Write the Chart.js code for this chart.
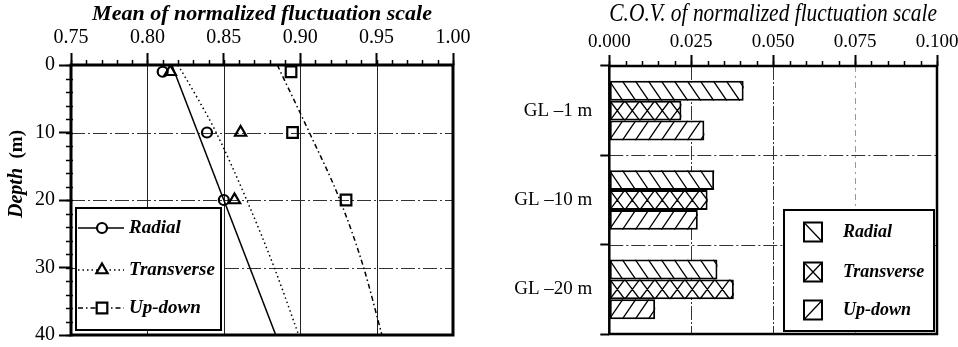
<!DOCTYPE html>
<html>
<head>
<meta charset="utf-8">
<script src="https://cdn.jsdelivr.net/npm/chart.js@4/dist/chart.umd.min.js"></script>
<style>
  html, body { margin: 0; padding: 0; background: #fff; overflow: hidden; width: 958px; height: 347px; }
  #wrapL { position: absolute; left: 0; top: 0; width: 480px; height: 360px; }
  #wrapR { position: absolute; left: 480px; top: 0; width: 500px; height: 360px; }
</style>
</head>
<body>
<div id="wrapL"><canvas id="meanChart" width="480" height="360"></canvas></div>
<div id="wrapR"><canvas id="covChart" width="500" height="360"></canvas></div>
<script>
// ---- Mean of normalized fluctuation scale vs depth ----
const meanTicks = [0.75, 0.80, 0.85, 0.90, 0.95, 1.00];
const depthTicks = [0, 10, 20, 30, 40];
const sampleDepths = [1, 10, 20];
const radialMean = [0.810, 0.839, 0.850];
const transverseMean = [0.815, 0.861, 0.857];
const updownMean = [0.894, 0.895, 0.930];
// fitted trends (depth in m, mean value)
const radialFitDepths = [0, 40];
const radialFit = [0.816, 0.884];
const transverseFitDepths = [0, 5, 10, 20, 30, 40];
const transverseFit = [0.820, 0.833, 0.845, 0.865, 0.883, 0.899];
const updownFitDepths = [0, 10, 20, 30, 40];
const updownFit = [0.885, 0.906, 0.926, 0.9415, 0.9535];

// ---- C.O.V. of normalized fluctuation scale per level ----
const levels = ['GL \u20131 m', 'GL \u201310 m', 'GL \u201320 m'];
const covTicks = [0, 0.025, 0.05, 0.075, 0.1];
const covRadial = [0.041, 0.032, 0.033];
const covTransverse = [0.022, 0.030, 0.038];
const covUpdown = [0.029, 0.027, 0.014];

const seriesNames = ['Radial', 'Transverse', 'Up-down'];

const SERIF = "'Liberation Serif', 'Times New Roman', serif";
Chart.defaults.font.family = SERIF;
Chart.defaults.color = '#000';

const toPoints = (xs, ys) => ys.map((d, i) => ({ x: xs[i], y: d }));

function drawMarker(ctx, style, r, x, y) {
  ctx.beginPath();
  if (style === 'circle') {
    ctx.arc(x, y, r, 0, Math.PI * 2);
  } else if (style === 'triangle') {
    ctx.moveTo(x, y - r);
    ctx.lineTo(x + r * 0.866, y + r * 0.5);
    ctx.lineTo(x - r * 0.866, y + r * 0.5);
    ctx.closePath();
  } else {
    const s = r * Math.SQRT1_2;
    ctx.rect(x - s, y - s, 2 * s, 2 * s);
  }
  ctx.fill();
  ctx.stroke();
}

function drawHatch(ctx, kind, l, t, r, b) {
  const h = b - t;
  const step = kind === 'cross' ? 15 : 13;
  const dx = kind === 'cross' ? 15 : h * 0.68;
  ctx.beginPath();
  for (let x0 = l - dx - step; x0 < r + step; x0 += step) {
    if (kind === 'back' || kind === 'cross') { ctx.moveTo(x0, t); ctx.lineTo(x0 + dx, b); }
    if (kind === 'fwd' || kind === 'cross') { ctx.moveTo(x0 + dx, t); ctx.lineTo(x0, b); }
  }
  ctx.stroke();
}

// Grid lines, hatching, minor ticks, frame and in-plot legends
const paperPlugin = {
  id: 'paper',
  beforeDatasetsDraw(chart, args, o) {
    const { ctx, chartArea: a, scales } = chart;
    ctx.save();
    ctx.beginPath();
    ctx.rect(a.left, a.top, a.right - a.left, a.bottom - a.top);
    ctx.clip();
    (o.gridX || []).forEach(g => {
      const px = Math.round(scales.x.getPixelForValue(g.value)) + 0.5;
      ctx.beginPath();
      ctx.setLineDash(g.dash || []);
      ctx.strokeStyle = g.color;
      ctx.lineWidth = g.width || 1;
      ctx.moveTo(px, a.top);
      ctx.lineTo(px, a.bottom);
      ctx.stroke();
    });
    (o.gridY || []).forEach(g => {
      const ys = scales.y;
      let py = g.between != null
        ? (ys.getPixelForValue(g.between) + ys.getPixelForValue(g.between + 1)) / 2
        : ys.getPixelForValue(g.value);
      py = Math.round(py) + 0.5;
      ctx.beginPath();
      ctx.setLineDash(g.dash || []);
      ctx.strokeStyle = g.color;
      ctx.lineWidth = g.width || 1;
      ctx.moveTo(a.left, py);
      ctx.lineTo(a.right, py);
      ctx.stroke();
    });
    ctx.restore();
  },
  afterDatasetsDraw(chart, args, o) {
    const { ctx } = chart;
    chart.data.datasets.forEach((ds, di) => {
      if (!ds.hatch) return;
      chart.getDatasetMeta(di).data.forEach(bar => {
        const p = bar.getProps(['x', 'y', 'base', 'height'], true);
        const l = Math.min(p.x, p.base), r = Math.max(p.x, p.base);
        const t = p.y - p.height / 2, b = p.y + p.height / 2;
        ctx.save();
        ctx.beginPath();
        ctx.rect(l, t, r - l, b - t);
        ctx.clip();
        ctx.strokeStyle = '#000';
        ctx.lineWidth = 1.3;
        drawHatch(ctx, ds.hatch, l, t, r, b);
        ctx.restore();
      });
    });
  },
  afterDraw(chart, args, o) {
    const { ctx, chartArea: a, scales } = chart;
    ctx.save();
    ctx.strokeStyle = '#000';
    ctx.fillStyle = '#000';
    ctx.setLineDash([]);

    // minor ticks
    if (o.minorX) {
      const xs = scales.x;
      ctx.lineWidth = 1.5;
      ctx.beginPath();
      for (let k = 0; ; k++) {
        const v = xs.min + k * o.minorX;
        if (v > xs.max + 1e-9) break;
        const px = Math.round(xs.getPixelForValue(v)) + 0.5;
        ctx.moveTo(px, a.top);
        ctx.lineTo(px, a.top - o.minorLen);
      }
      ctx.stroke();
    }
    if (o.minorY) {
      const ys = scales.y;
      ctx.lineWidth = 1.5;
      ctx.beginPath();
      for (let k = 0; ; k++) {
        const v = ys.min + k * o.minorY;
        if (v > ys.max + 1e-9) break;
        const py = Math.round(ys.getPixelForValue(v)) + 0.5;
        ctx.moveTo(a.left - o.minorLen, py);
        ctx.lineTo(a.left + 2, py);
      }
      ctx.stroke();
    }

    // line / marker legend
    if (o.lineLegend) {
      const L = o.lineLegend;
      ctx.fillStyle = '#fff';
      ctx.fillRect(L.x, L.y, L.w, L.h);
      ctx.lineWidth = 2;
      ctx.strokeRect(L.x, L.y, L.w, L.h);
      const markers = chart.data.datasets.filter(d => !d.showLine);
      markers.forEach((m, i) => {
        const line = chart.data.datasets.find(d => d.showLine && d.label === m.label);
        const cy = L.rowY[i];
        ctx.beginPath();
        ctx.setLineDash(line.borderDash || []);
        ctx.lineWidth = line.borderWidth;
        ctx.strokeStyle = '#000';
        ctx.moveTo(L.lineX0, cy);
        ctx.lineTo(L.lineX1, cy);
        ctx.stroke();
        ctx.setLineDash([]);
        ctx.fillStyle = '#fff';
        ctx.lineWidth = m.pointBorderWidth;
        drawMarker(ctx, m.pointStyle, m.pointRadius, L.markX, cy);
        ctx.fillStyle = '#000';
        ctx.font = L.font;
        ctx.textAlign = 'left';
        ctx.textBaseline = 'middle';
        ctx.fillText(m.label, L.textX, cy);
      });
    }

    // hatch legend
    if (o.barLegend) {
      const L = o.barLegend;
      ctx.fillStyle = '#fff';
      ctx.fillRect(L.x, L.y, L.w, L.h);
      ctx.lineWidth = 2;
      ctx.strokeStyle = '#000';
      ctx.strokeRect(L.x, L.y, L.w, L.h);
      chart.data.datasets.forEach((ds, i) => {
        const cy = L.rowY[i];
        const st = cy - L.swH / 2;
        ctx.fillStyle = '#fff';
        ctx.fillRect(L.swX, st, L.swW, L.swH);
        ctx.lineWidth = 2;
        ctx.strokeRect(L.swX, st, L.swW, L.swH);
        ctx.lineWidth = 1.3;
        ctx.beginPath();
        if (ds.hatch === 'back' || ds.hatch === 'cross') { ctx.moveTo(L.swX, st); ctx.lineTo(L.swX + L.swW, st + L.swH); }
        if (ds.hatch === 'fwd' || ds.hatch === 'cross') { ctx.moveTo(L.swX + L.swW, st); ctx.lineTo(L.swX, st + L.swH); }
        ctx.stroke();
        ctx.fillStyle = '#000';
        ctx.font = L.font;
        ctx.textAlign = 'left';
        ctx.textBaseline = 'middle';
        ctx.fillText(ds.label, L.textX, cy);
      });
    }

    // rotated y-axis title with mixed styles
    if (o.yTitle) {
      const T = o.yTitle;
      ctx.translate(T.x, T.y);
      ctx.rotate(-Math.PI / 2);
      ctx.textBaseline = 'middle';
      ctx.textAlign = 'left';
      let total = 0;
      const widths = T.parts.map(p => { ctx.font = p.font; const w = ctx.measureText(p.text).width; total += w; return w; });
      let cx = -total / 2;
      T.parts.forEach((p, i) => {
        ctx.font = p.font;
        ctx.fillStyle = '#000';
        ctx.fillText(p.text, cx, 0);
        cx += widths[i];
      });
      ctx.setTransform(1, 0, 0, 1, 0, 0);
    }

    // plot frame
    ctx.lineWidth = o.frameWidth;
    ctx.strokeStyle = '#000';
    ctx.strokeRect(a.left, a.top, a.right - a.left, a.bottom - a.top);
    ctx.restore();
  }
};

// ---------- left panel ----------
new Chart(document.getElementById('meanChart'), {
  type: 'scatter',
  plugins: [paperPlugin],
  data: {
    datasets: [
      { label: seriesNames[0], data: toPoints(radialFit, radialFitDepths), showLine: true,
        borderColor: '#000', borderWidth: 1.5, pointRadius: 0, borderDash: [] },
      { label: seriesNames[1], data: toPoints(transverseFit, transverseFitDepths), showLine: true,
        borderColor: '#000', borderWidth: 1.5, pointRadius: 0, borderDash: [1.5, 3], cubicInterpolationMode: 'monotone' },
      { label: seriesNames[2], data: toPoints(updownFit, updownFitDepths), showLine: true,
        borderColor: '#000', borderWidth: 1.5, pointRadius: 0, borderDash: [5, 3, 1.5, 3], cubicInterpolationMode: 'monotone' },
      { label: seriesNames[0], data: toPoints(radialMean, sampleDepths), showLine: false,
        pointStyle: 'circle', pointRadius: 5, pointBorderWidth: 2.2, pointBorderColor: '#000', pointBackgroundColor: 'rgba(255,255,255,0)' },
      { label: seriesNames[1], data: toPoints(transverseMean, sampleDepths), showLine: false,
        pointStyle: 'triangle', pointRadius: 6.5, pointBorderWidth: 2.2, pointBorderColor: '#000', pointBackgroundColor: 'rgba(255,255,255,0)' },
      { label: seriesNames[2], data: toPoints(updownMean, sampleDepths), showLine: false,
        pointStyle: 'rect', pointRadius: 7.5, pointBorderWidth: 2.2, pointBorderColor: '#000', pointBackgroundColor: 'rgba(255,255,255,0)' }
    ]
  },
  options: {
    responsive: false,
    animation: false,
    layout: { padding: { left: 0, top: 0, right: 27, bottom: 25 } },
    plugins: {
      legend: { display: false },
      tooltip: { enabled: false },
      paper: {
        frameWidth: 3,
        minorX: 0.01, minorY: 2, minorLen: 5,
        gridX: [0.80, 0.85, 0.90, 0.95].map(v => ({ value: v, color: '#222', width: 1 })),
        gridY: [10, 20, 30].map(v => ({ value: v, color: '#333', width: 1.2, dash: [14, 3, 2, 3] })),
        lineLegend: {
          x: 76, y: 208, w: 145, h: 122,
          rowY: [228, 270, 308], lineX0: 78, lineX1: 124, markX: 102, textX: 129,
          font: "italic bold 19px " + SERIF
        },
        yTitle: {
          x: 17, y: 174,
          parts: [
            { text: 'Depth', font: "italic bold 20px " + SERIF },
            { text: '  (m)', font: "bold 19px " + SERIF }
          ]
        }
      }
    },
    scales: {
      x: {
        type: 'linear', position: 'top', min: 0.75, max: 1.0,
        afterBuildTicks: s => { s.ticks = meanTicks.map(v => ({ value: v })); },
        afterFit: s => { s.height = 65; },
        ticks: { font: { size: 20 }, color: '#000', padding: 3, callback: v => v.toFixed(2) },
        grid: { drawOnChartArea: false, tickLength: 12, tickWidth: 2, tickColor: '#000' },
        border: { display: false },
        title: { display: true, text: 'Mean of normalized fluctuation scale',
                 font: { size: 22, style: 'italic', weight: 'bold' }, color: '#000', padding: { top: 1, bottom: 0 } }
      },
      y: {
        type: 'linear', reverse: true, min: 0, max: 40,
        afterBuildTicks: s => { s.ticks = depthTicks.map(v => ({ value: v })); },
        afterFit: s => { s.width = 71; },
        ticks: { font: { size: 20 }, color: '#000', padding: 4 },
        grid: { drawOnChartArea: false, tickLength: 12, tickWidth: 2, tickColor: '#000' },
        border: { display: false }
      }
    }
  }
});

// ---------- right panel ----------
new Chart(document.getElementById('covChart'), {
  type: 'bar',
  plugins: [paperPlugin],
  data: {
    labels: levels,
    datasets: [
      { label: seriesNames[0], data: covRadial, hatch: 'back' },
      { label: seriesNames[1], data: covTransverse, hatch: 'cross' },
      { label: seriesNames[2], data: covUpdown, hatch: 'fwd' }
    ].map(d => Object.assign(d, {
      backgroundColor: '#fff', borderColor: '#000', borderWidth: 2, borderSkipped: false,
      categoryPercentage: 0.667, barPercentage: 1.0
    }))
  },
  options: {
    indexAxis: 'y',
    responsive: false,
    animation: false,
    layout: { padding: { left: 0, top: 0, right: 43, bottom: 26 } },
    plugins: {
      legend: { display: false },
      tooltip: { enabled: false },
      paper: {
        frameWidth: 2.5,
        minorX: 0.005, minorLen: 5,
        gridX: [
          { value: 0.025, color: '#333', width: 1, dash: [14, 2, 2, 2] },
          { value: 0.050, color: '#333', width: 1, dash: [14, 2, 2, 2] },
          { value: 0.075, color: '#999', width: 1, dash: [6, 4, 2, 4] }
        ],
        gridY: [0, 1].map(i => ({ between: i, color: '#333', width: 1.2, dash: [14, 3, 2, 3] })),
        barLegend: {
          x: 304, y: 210, w: 150, h: 121,
          rowY: [232, 272, 310], swX: 324, swW: 18, swH: 19, textX: 363,
          font: "italic bold 18px " + SERIF
        }
      }
    },
    scales: {
      x: {
        type: 'linear', position: 'top', min: 0, max: 0.1,
        afterBuildTicks: s => { s.ticks = covTicks.map(v => ({ value: v })); },
        afterFit: s => { s.height = 66; },
        ticks: { font: { size: 19 }, color: '#000', padding: 2, callback: v => v.toFixed(3) },
        grid: { drawOnChartArea: false, tickLength: 11, tickWidth: 2, tickColor: '#000' },
        border: { display: false },
        title: { display: true, text: 'C.O.V. of normalized fluctuation scale',
                 font: { size: 25, style: 'italic' }, color: '#000', padding: { top: -1, bottom: 0 } }
      },
      y: {
        type: 'category',
        afterFit: s => { s.width = 129.3; },
        ticks: { font: { size: 19 }, color: '#000', padding: 8 },
        grid: { drawOnChartArea: false, offset: true, tickLength: 9, tickWidth: 2, tickColor: '#000' },
        border: { display: false }
      }
    }
  }
});
</script>
</body>
</html>
